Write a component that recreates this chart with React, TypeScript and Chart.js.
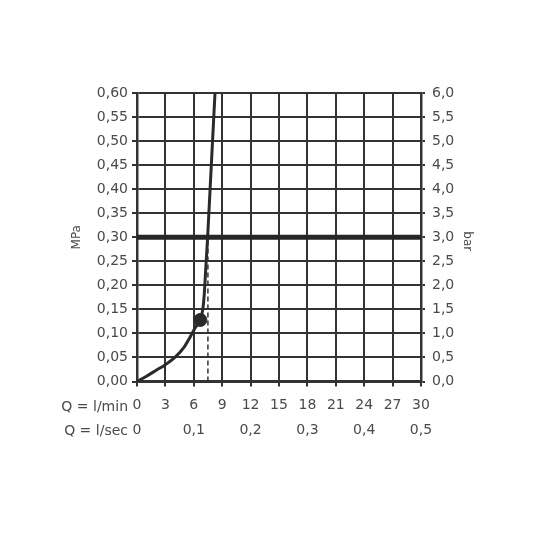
import React, { useEffect, useRef } from "react";
import { Chart, registerables } from "chart.js";

Chart.register(...registerables);

// Flow curve (l/min) vs pressure (MPa)
const curveFlow = [0, 1, 2, 3, 4, 5, 5.6, 6.1, 6.69, 6.95, 7.1, 7.25, 7.46, 7.85, 8.24];
const curvePressure = [0, 0.011, 0.023, 0.035, 0.05, 0.072, 0.092, 0.11, 0.13, 0.15, 0.18, 0.23, 0.3, 0.45, 0.6];

const operatingFlow = 6.69;
const operatingPressure = 0.128;
const dashedFlow = 7.49;
const dashedTop = 0.3;
const thickLinePressure = 0.3;

const lminTicks = [0, 3, 6, 9, 12, 15, 18, 21, 24, 27, 30];
const lminLabels = ["0", "3", "6", "9", "12", "15", "18", "21", "24", "27", "30"];
const lsecTicks = [0, 6, 12, 18, 24, 30];
const lsecLabels = ["0", "0,1", "0,2", "0,3", "0,4", "0,5"];
const mpaTicks = [0, 0.05, 0.1, 0.15, 0.2, 0.25, 0.3, 0.35, 0.4, 0.45, 0.5, 0.55, 0.6];
const mpaLabels = ["0,00", "0,05", "0,10", "0,15", "0,20", "0,25", "0,30", "0,35", "0,40", "0,45", "0,50", "0,55", "0,60"];
const barTicks = [0, 0.5, 1, 1.5, 2, 2.5, 3, 3.5, 4, 4.5, 5, 5.5, 6];
const barLabels = ["0,0", "0,5", "1,0", "1,5", "2,0", "2,5", "3,0", "3,5", "4,0", "4,5", "5,0", "5,5", "6,0"];

const FONT = "'DejaVu Sans', sans-serif";
const TEXT = "#4a4a4a";
const LINE = "#333333";

const extraText = {
  id: "extraText",
  afterDraw(chart: any) {
    const ctx = chart.ctx;
    const area = chart.chartArea;
    ctx.save();
    ctx.fillStyle = TEXT;
    ctx.textBaseline = "middle";
    ctx.font = `14px ${FONT}`;
    ctx.textAlign = "right";
    const xs = chart.scales.x;
    const x2 = chart.scales.x2;
    ctx.fillText("Q = l/min", area.left - 9, xs.top + 26);
    ctx.fillText("Q = l/sec", area.left - 9, x2.top + 12);
    const mid = (area.top + area.bottom) / 2;
    ctx.font = `12px ${FONT}`;
    ctx.textAlign = "center";
    ctx.save();
    ctx.translate(77, mid);
    ctx.rotate(-Math.PI / 2);
    ctx.fillText("MPa", 0, 0);
    ctx.restore();
    ctx.save();
    ctx.translate(467, mid + 4);
    ctx.rotate(Math.PI / 2);
    ctx.fillText("bar", 0, 0);
    ctx.restore();
    ctx.restore();
  },
};

function setTicks(values: number[]) {
  return (scale: any) => {
    scale.ticks = values.map((v) => ({ value: v }));
  };
}

export default function App() {
  const ref = useRef<HTMLCanvasElement | null>(null);
  useEffect(() => {
    if (!ref.current) return;
    const chart = new Chart(ref.current, {
      type: "line",
      data: {
        datasets: [
          {
            data: [
              { x: dashedFlow, y: 0 },
              { x: dashedFlow, y: dashedTop },
            ],
            borderColor: LINE,
            borderWidth: 1.5,
            borderDash: [5, 3],
            pointRadius: 0,
            xAxisID: "x",
            yAxisID: "y",
          },
          {
            data: [
              { x: 0, y: thickLinePressure },
              { x: 30, y: thickLinePressure },
            ],
            borderColor: "#262626",
            borderWidth: 5,
            pointRadius: 0,
            xAxisID: "x",
            yAxisID: "y",
          },
          {
            data: curveFlow.map((f, i) => ({ x: f, y: curvePressure[i] })),
            borderColor: "#2a2a2a",
            borderWidth: 3,
            pointRadius: 0,
            cubicInterpolationMode: "monotone",
            xAxisID: "x",
            yAxisID: "y",
          },
          {
            data: [{ x: operatingFlow, y: operatingPressure }],
            showLine: false,
            pointRadius: 6.5,
            pointBackgroundColor: "#2a2a2a",
            pointBorderColor: "#2a2a2a",
            xAxisID: "x",
            yAxisID: "y",
          },
        ],
      } as any,
      options: {
        animation: false,
        responsive: false,
        events: [],
        layout: { padding: { top: 93, left: 0, right: 0, bottom: 92.5 } },
        plugins: { legend: { display: false }, tooltip: { enabled: false } },
        scales: {
          x: {
            type: "linear",
            position: "bottom",
            min: 0,
            max: 30,
            weight: 0,
            afterBuildTicks: setTicks(lminTicks),
            afterFit: (s: any) => {
              s.height = 38;
            },
            ticks: {
              autoSkip: false,
              maxRotation: 0,
              padding: 10,
              color: TEXT,
              font: { family: FONT, size: 14 },
              callback: (_v: any, i: number) => lminLabels[i],
            },
            grid: { color: LINE, lineWidth: 2, tickLength: 5 },
            border: { color: LINE, width: 2.5 },
          },
          x2: {
            type: "linear",
            position: "bottom",
            min: 0,
            max: 30,
            weight: 1,
            afterBuildTicks: setTicks(lsecTicks),
            afterFit: (s: any) => {
              s.height = 24;
            },
            ticks: {
              autoSkip: false,
              maxRotation: 0,
              padding: 2,
              color: TEXT,
              font: { family: FONT, size: 14 },
              callback: (_v: any, i: number) => lsecLabels[i],
            },
            grid: { display: false, drawTicks: false },
            border: { display: false },
          },
          y: {
            type: "linear",
            position: "left",
            min: 0,
            max: 0.6,
            afterBuildTicks: setTicks(mpaTicks),
            afterFit: (s: any) => {
              s.width = 137;
            },
            ticks: {
              autoSkip: false,
              padding: 4,
              color: TEXT,
              font: { family: FONT, size: 14 },
              callback: (_v: any, i: number) => mpaLabels[i],
            },
            grid: { color: LINE, lineWidth: 2, tickLength: 5 },
            border: { color: LINE, width: 2.5 },
          },
          y2: {
            type: "linear",
            position: "right",
            min: 0,
            max: 6,
            afterBuildTicks: setTicks(barTicks),
            afterFit: (s: any) => {
              s.width = 115;
            },
            ticks: {
              autoSkip: false,
              padding: 7,
              color: TEXT,
              font: { family: FONT, size: 14 },
              callback: (_v: any, i: number) => barLabels[i],
            },
            grid: { color: LINE, lineWidth: 2, tickLength: 4, drawOnChartArea: false },
            border: { color: LINE, width: 2.5 },
          },
        },
      } as any,
      plugins: [extraText],
    });
    return () => chart.destroy();
  }, []);

  return (
    <div style={{ position: "fixed", left: 0, top: 0, width: 536, height: 536, background: "#fff" }}>
      <canvas ref={ref} width={536} height={536} style={{ display: "block" }} />
    </div>
  );
}
